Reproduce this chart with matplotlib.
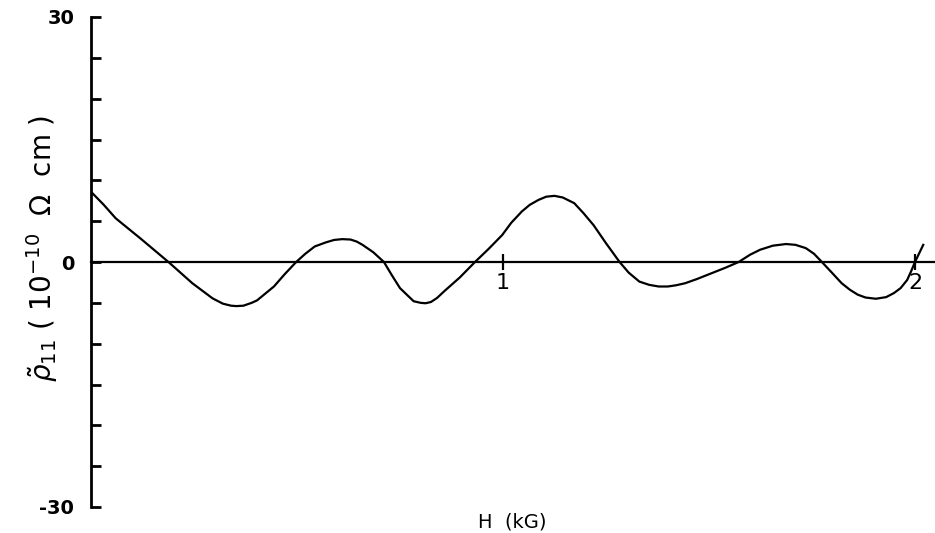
import matplotlib
matplotlib.use("Agg")
import matplotlib.pyplot as plt

# field H (kG) and oscillating resistivity (10^-10 ohm cm)
field = [0.0, 0.031, 0.060, 0.122, 0.188, 0.246, 0.295, 0.320, 0.340, 0.353,
         0.370, 0.390, 0.403, 0.444, 0.470, 0.498, 0.520, 0.543, 0.570, 0.590,
         0.610, 0.630, 0.645, 0.659, 0.685, 0.711, 0.730, 0.750, 0.783, 0.800,
         0.812, 0.825, 0.840, 0.858, 0.895, 0.932, 0.965, 0.998, 1.020, 1.046,
         1.065, 1.086, 1.105, 1.125, 1.145, 1.173, 1.195, 1.220, 1.250, 1.283,
         1.305, 1.331, 1.355, 1.378, 1.400, 1.420, 1.442, 1.470, 1.505, 1.540,
         1.572, 1.600, 1.624, 1.655, 1.687, 1.710, 1.735, 1.755, 1.774, 1.800,
         1.822, 1.842, 1.861, 1.880, 1.905, 1.930, 1.949, 1.965, 1.981, 1.990,
         2.000, 2.020]
rho = [8.6, 7.0, 5.35, 2.8, 0.0, -2.6, -4.45, -5.1, -5.35, -5.4,
       -5.35, -5.0, -4.7, -3.0, -1.5, 0.0, 1.0, 1.9, 2.4, 2.7,
       2.8, 2.75, 2.5, 2.1, 1.2, 0.0, -1.6, -3.2, -4.8, -5.0,
       -5.05, -4.9, -4.4, -3.55, -1.9, 0.0, 1.6, 3.3, 4.8, 6.2,
       7.0, 7.6, 8.0, 8.1, 7.9, 7.2, 6.0, 4.5, 2.3, 0.0,
       -1.3, -2.4, -2.8, -3.0, -3.0, -2.85, -2.6, -2.1, -1.4, -0.7,
       0.0, 0.9, 1.5, 2.0, 2.2, 2.1, 1.7, 1.0, 0.0, -1.4,
       -2.6, -3.4, -4.0, -4.35, -4.5, -4.3, -3.8, -3.2, -2.2, -1.2,
       0.0, 2.1]

x_ticks = [1, 2]
x_tick_labels = ["1", "2"]
y_ticks = list(range(-30, 31, 5))
y_tick_labels = ["-30" if v == -30 else "30" if v == 30 else "0" if v == 0 else "" for v in y_ticks]

fig = plt.figure(figsize=(9.35, 5.33), dpi=100)
ax = fig.add_axes([91 / 935, 1 - 507 / 533, 1 - 91 / 935, 490 / 533])

ax.plot(field, rho, color="black", lw=1.6, solid_joinstyle="round")

ax.set_xlim(0, 844 / 412)
ax.set_ylim(-30, 30)

for side in ["top", "right"]:
    ax.spines[side].set_visible(False)
ax.spines["left"].set_linewidth(2)
ax.spines["bottom"].set_position(("data", 0))
ax.spines["bottom"].set_linewidth(1.6)

ax.set_yticks(y_ticks)
ax.set_yticklabels(y_tick_labels, fontsize=14, fontweight="bold")
ax.tick_params(axis="y", direction="in", length=7, width=2, pad=12)

ax.set_xticks(x_ticks)
ax.set_xticklabels(x_tick_labels, fontsize=16)
ax.tick_params(axis="x", direction="inout", length=12, width=1.6, pad=2)

fig.text(42 / 935, 1 - 248 / 533,
         r"$\tilde{\rho}_{11}$ ( $10^{-10}$  $\Omega$  cm )",
         rotation=90, ha="center", va="center", fontsize=20)
fig.text(512 / 935, 1 - 522 / 533, "H  (kG)", ha="center", va="center", fontsize=14)

fig.savefig("out.png", dpi=100)
